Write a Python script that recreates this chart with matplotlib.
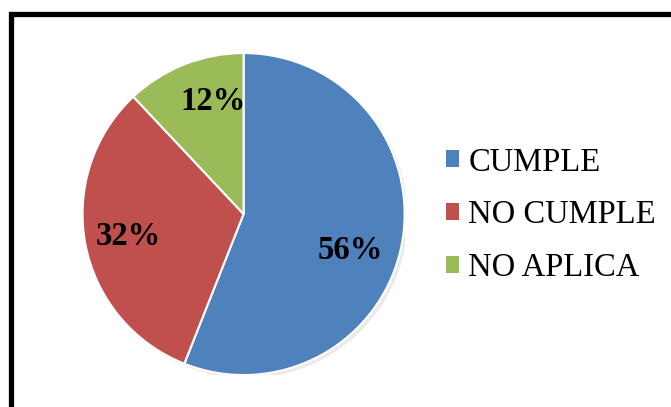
import matplotlib
matplotlib.use("Agg")
import matplotlib.pyplot as plt
import matplotlib.patches as mpatches
import numpy as np

categories = ["CUMPLE", "NO CUMPLE", "NO APLICA"]
values = [56, 32, 12]
colors = ["#4F81BD", "#C0504D", "#9BBB59"]

plt.rcParams['font.family'] = ['Liberation Serif', 'DejaVu Serif']

fig = plt.figure(figsize=(6.71, 4.07), dpi=100)
fig.patch.set_facecolor("white")

# outer frame
frame = mpatches.Rectangle((10.5 / 671, -0.2), 1.2, 1 - 13.5 / 407 + 0.2,
                           transform=fig.transFigure, fill=False,
                           edgecolor="black", linewidth=3.8, zorder=0)
fig.patches.append(frame)

ax = fig.add_axes([0.123, 0.0786, 0.480, 0.791])
# faint shadow
shadow = mpatches.Circle((0.02, -0.02), 1.0, facecolor="#bbbbbb", edgecolor="none",
                         alpha=0.3, zorder=0)
ax.add_patch(shadow)
wedges, texts, autotexts = ax.pie(values, colors=colors, startangle=90, counterclock=False,
                                  autopct=lambda p: f"{p:.0f}%", pctdistance=0.73,
                                  radius=1.0,
                                  wedgeprops=dict(edgecolor="white", linewidth=1.5),
                                  textprops=dict(fontsize=23.5, fontweight="bold", color="black"))
# nudge labels (Excel best-fit placement)
for t, dang, fr in [(autotexts[0], -8, 0.96), (autotexts[2], -6.5, 0.99)]:
    x, y = t.get_position()
    ang = np.arctan2(y, x) + np.deg2rad(dang)
    r = np.hypot(x, y) * fr
    t.set_position((r * np.cos(ang), r * np.sin(ang)))

ax.set_xlim(-1.0, 1.0)
ax.set_ylim(-1.0, 1.0)
ax.set_aspect("auto")
ax.axis("off")

handles = [mpatches.Patch(facecolor=c, edgecolor="none") for c in colors]
leg = fig.legend(handles, categories, loc="center left", bbox_to_anchor=(0.664, 0.4718),
                 frameon=False, fontsize=23.5, handlelength=0.42, handleheight=0.42,
                 handletextpad=0.28, labelspacing=0.68, borderpad=0, borderaxespad=0)

fig.savefig("out.png", dpi=100)
